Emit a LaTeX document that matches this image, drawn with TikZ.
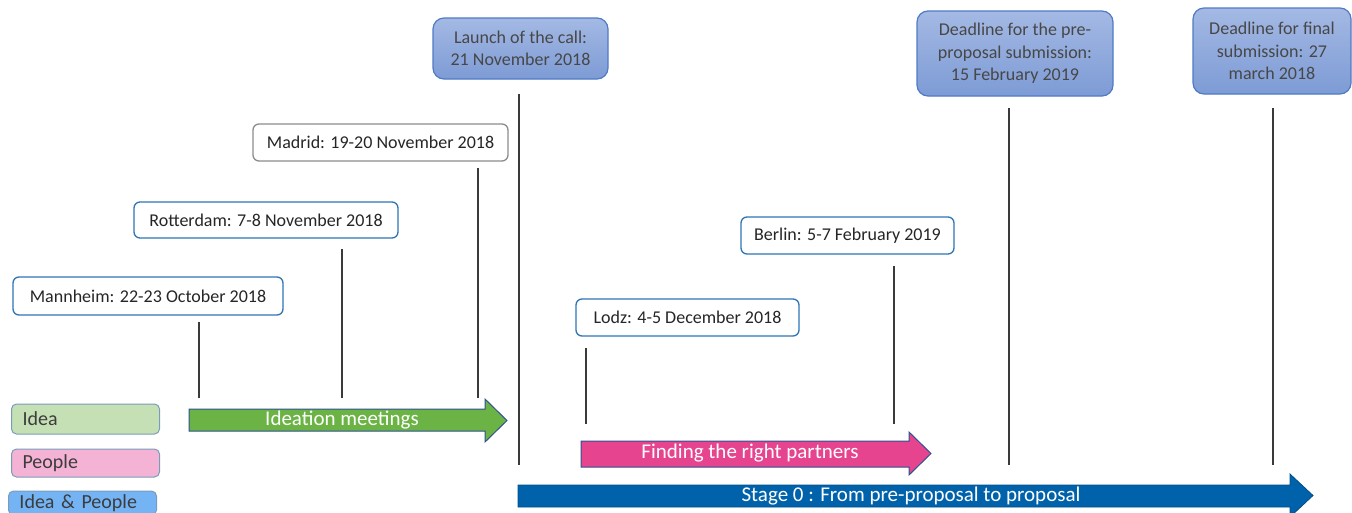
\documentclass[tikz,border=0pt]{standalone}
\usepackage{fontspec}
\setmainfont{Carlito}
\usetikzlibrary{shapes.misc}
\definecolor{boxblue}{HTML}{2E75B6}
\definecolor{boxgray}{HTML}{8C8C8C}
\definecolor{txt}{HTML}{262626}
\definecolor{toptop}{HTML}{A4B9E4}
\definecolor{topbot}{HTML}{7D9BD5}
\definecolor{topedge}{HTML}{4F7BC4}
\definecolor{vline}{HTML}{3A3A3A}
\definecolor{arrgreen}{HTML}{6AB344}
\definecolor{arrpink}{HTML}{E6448F}
\definecolor{arrblue}{HTML}{0062AA}
\definecolor{arredge}{HTML}{2F528F}
\definecolor{legidea}{HTML}{C5E0B4}
\definecolor{legpeople}{HTML}{F4B3D4}
\definecolor{legboth}{HTML}{74B4F5}
\definecolor{legedge}{HTML}{7A9CBC}
\tikzset{
  wbox/.style={draw=boxblue, line width=1.3pt, fill=white, rounded corners=6pt, text=txt, font=\fontsize{18}{22}\selectfont, inner sep=0pt},
  gbox/.style={wbox, draw=boxgray},
  topbox/.style={draw=topedge, line width=1.2pt, top color=toptop, bottom color=topbot, rounded corners=11pt, text=txt!85, font=\fontsize{18}{22.5}\selectfont, align=center, inner sep=0pt},
  leg/.style={draw=legedge, line width=1pt, rounded corners=5pt, text=txt!90, font=\fontsize{20}{24}\selectfont, inner sep=0pt, anchor=west, text width=148pt, minimum height=30pt},
  tick/.style={draw=vline, line width=2pt},
  arr/.style={draw=arredge, line width=1pt},
  arrtext/.style={text=white, font=\fontsize{21}{24}\selectfont, inner sep=0pt}
}
\begin{document}
\begin{tikzpicture}[x=1pt,y=-1pt]
\useasboundingbox (0,0) rectangle (1352,512);
% top milestone boxes
\node[topbox, minimum width=175pt, minimum height=61pt] (launch) at (520.5,48.5) {Launch of the call:\\21 November 2018};
\node[topbox, minimum width=196pt, minimum height=85pt] (pre) at (1015,53.5) {Deadline for the pre-\\proposal submission:\\15 February 2019};
\node[topbox, minimum width=158pt, minimum height=86pt] (final) at (1272,51) {Deadline for final\\submission: 27\\march 2018};
% meeting boxes
\node[gbox, minimum width=255pt, minimum height=37pt] (madrid) at (380.5,142.5) {Madrid: 19-20 November 2018};
\node[wbox, minimum width=264pt, minimum height=36pt] (rotterdam) at (266,220) {Rotterdam: 7-8 November 2018};
\node[wbox, minimum width=270pt, minimum height=38pt] (mannheim) at (148,296) {Mannheim: 22-23 October 2018};
\node[wbox, minimum width=213pt, minimum height=37pt] (berlin) at (847.5,235.5) {Berlin: 5-7 February 2019};
\node[wbox, minimum width=223pt, minimum height=37pt] (lodz) at (687.5,317.5) {Lodz: 4-5 December 2018};
% tick lines
\coordinate (t1a) at (199,322); \coordinate (t1b) at (199,398);
\coordinate (t2a) at (342,249); \coordinate (t2b) at (342,398);
\coordinate (t3a) at (478,168); \coordinate (t3b) at (478,398);
\coordinate (t4a) at (519,94);  \coordinate (t4b) at (519,465);
\coordinate (t5a) at (586,348); \coordinate (t5b) at (586,424);
\coordinate (t6a) at (894,266); \coordinate (t6b) at (894,424);
\coordinate (t7a) at (1009,108); \coordinate (t7b) at (1009,465);
\coordinate (t8a) at (1273,108); \coordinate (t8b) at (1273,465);
\foreach \i in {1,...,8} {\draw[tick] (t\i a) -- (t\i b);}
% arrows
\draw[arr, fill=arrgreen] (189,409) -- (485,409) -- (485,399) -- (507,420.5) -- (485,442) -- (485,431) -- (189,431) -- cycle;
\node[arrtext] (ideation) at (342,420) {Ideation meetings};
\draw[arr, fill=arrpink] (581,441) -- (909,441) -- (909,432) -- (931,453.5) -- (909,475) -- (909,467) -- (581,467) -- cycle;
\node[arrtext] (finding) at (750,453) {Finding the right partners};
\draw[draw=arrblue!80!black, line width=0.8pt, fill=arrblue] (518,485) -- (1290,485) -- (1290,474) -- (1313,495.5) -- (1290,517) -- (1290,507) -- (518,507) -- cycle;
\node[arrtext] (stage) at (911,496) {Stage 0 : From pre-proposal to proposal};
% legend
\node[leg, fill=legidea, minimum height=30pt] (lidea) at (11,419) {\hspace*{11pt}Idea};
\node[leg, fill=legpeople, minimum height=28pt] (lpeople) at (11,463) {\hspace*{11pt}People};
\node[leg, fill=legboth, minimum height=24pt] (lboth) at (8,503) {\hspace*{11pt}Idea \& People};
\end{tikzpicture}
\end{document}
